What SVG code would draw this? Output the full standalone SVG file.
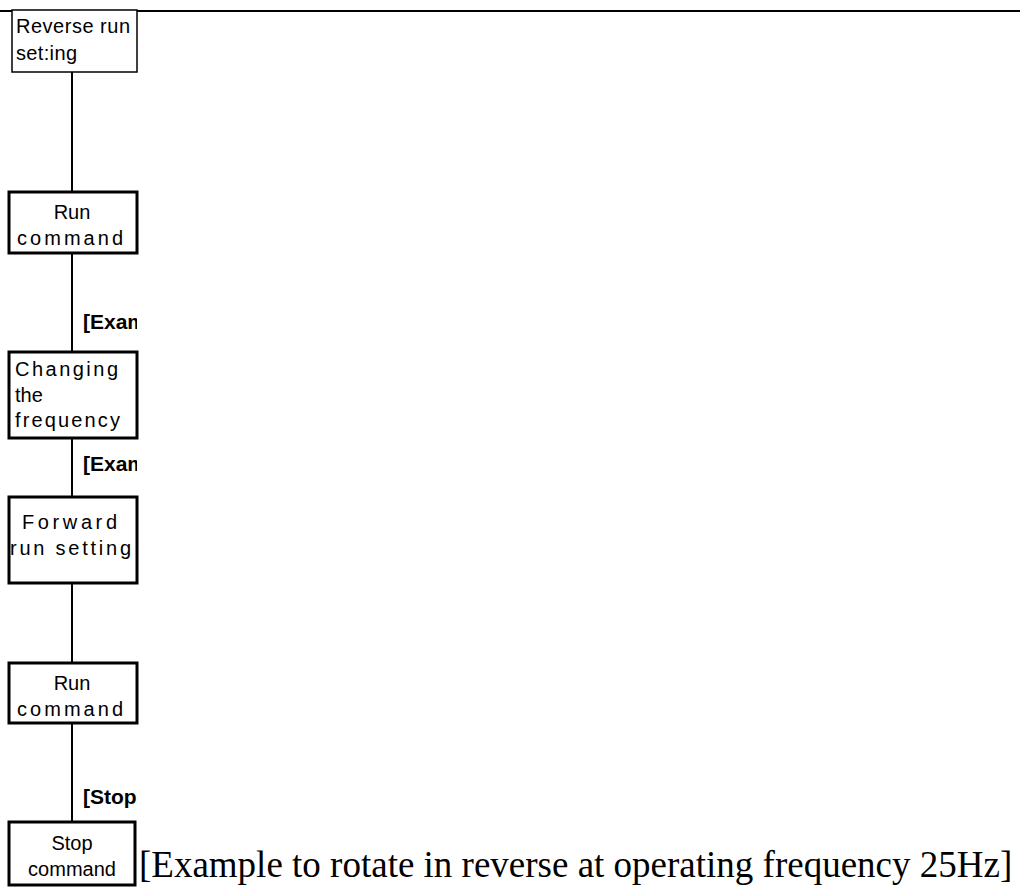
<svg xmlns="http://www.w3.org/2000/svg" width="1020" height="892" viewBox="0 0 1020 892">
<defs>
<style>
.box{fill:#fff;stroke:#000;stroke-width:3}
.thin{fill:#fff;stroke:#000;stroke-width:1.5}
.t{font-family:"Liberation Sans",Arial,sans-serif;font-size:20px;fill:#000}
.lbl{font-family:"Liberation Sans",Arial,sans-serif;font-size:21px;font-weight:bold;fill:#000}
.conn{stroke:#000;stroke-width:2;fill:none}
</style>
<clipPath id="clip"><rect x="0" y="0" width="137" height="892"/></clipPath>
</defs>
<rect width="1020" height="892" fill="#fff"/>
<line x1="0" y1="11" x2="1020" y2="11" stroke="#000" stroke-width="2"/>
<g id="connectors">
<line class="conn" x1="72" y1="72" x2="72" y2="192"/>
<line class="conn" x1="72" y1="253" x2="72" y2="352"/>
<line class="conn" x1="72" y1="438" x2="72" y2="497"/>
<line class="conn" x1="72" y1="583" x2="72" y2="663"/>
<line class="conn" x1="72" y1="723" x2="72" y2="822"/>
</g>
<g id="labels" clip-path="url(#clip)">
<text class="lbl" x="83" y="329">[Example</text>
<text class="lbl" x="83" y="471">[Example</text>
<text class="lbl" x="83" y="804">[Stop</text>
</g>
<g id="n1">
<rect class="thin" x="12" y="10" width="125" height="62"/>
<text class="t" x="16" y="33" textLength="114" lengthAdjust="spacing">Reverse run</text>
<text class="t" x="16" y="60" textLength="61" lengthAdjust="spacing">set:ing</text>
</g>
<g id="n2">
<rect class="box" x="9" y="192" width="128" height="61"/>
<text class="t" x="72" y="219" text-anchor="middle">Run</text>
<text class="t" x="17" y="245" textLength="106" lengthAdjust="spacing">command</text>
</g>
<g id="n3">
<rect class="box" x="9" y="352" width="128" height="86"/>
<text class="t" x="15" y="376" textLength="103" lengthAdjust="spacing">Changing</text>
<text class="t" x="15" y="402">the</text>
<text class="t" x="15" y="427" textLength="105" lengthAdjust="spacing">frequency</text>
</g>
<g id="n4">
<rect class="box" x="9" y="497" width="128" height="86"/>
<text class="t" x="22" y="529" textLength="95" lengthAdjust="spacing">Forward</text>
<text class="t" x="10" y="555" textLength="121" lengthAdjust="spacing">run setting</text>
</g>
<g id="n5">
<rect class="box" x="9" y="663" width="128" height="60"/>
<text class="t" x="72" y="690" text-anchor="middle">Run</text>
<text class="t" x="17" y="716" textLength="106" lengthAdjust="spacing">command</text>
</g>
<g id="n6">
<rect class="box" x="9" y="822" width="126" height="63"/>
<text class="t" x="72" y="850" text-anchor="middle">Stop</text>
<text class="t" x="72" y="876" text-anchor="middle">command</text>
</g>
<text x="139" y="877" font-family="Liberation Serif,'Times New Roman',serif" font-size="37" fill="#000">[Example to rotate in reverse at operating frequency 25Hz]</text>
</svg>
